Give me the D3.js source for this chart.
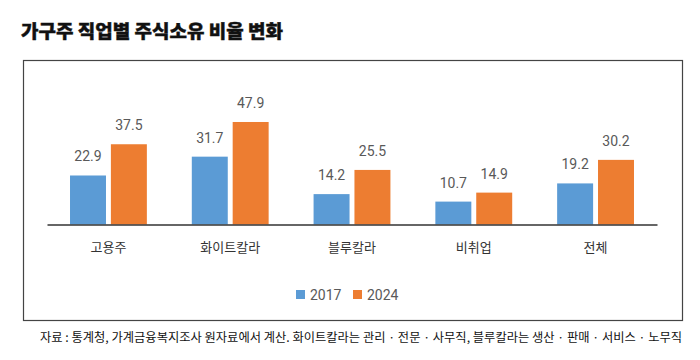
<!DOCTYPE html>
<html><head><meta charset="utf-8">
<script src="https://cdn.jsdelivr.net/npm/d3@7"></script>
<style>body{margin:0;background:#fff}svg{display:block}</style>
</head><body>
<svg id="c" width="700" height="360"></svg>
<script>
const categories = ["고용주","화이트칼라","블루칼라","비취업","전체"];
const seriesNames = ["2017","2024"];
const values2017 = [22.9,31.7,14.2,10.7,19.2];
const values2024 = [37.5,47.9,25.5,14.9,30.2];
const colors = ["#5B9BD5","#ED7D31"];
const title = "가구주 직업별 주식소유 비율 변화";
const source = "자료 : 통계청, 가계금융복지조사 원자료에서 계산. 화이트칼라는 관리 · 전문 · 사무직, 블루칼라는 생산 · 판매 · 서비스 · 노무직";

const svg = d3.select("#c");
const kr = "'Noto Sans CJK KR','Noto Sans',sans-serif";
const num = "Roboto,'Liberation Sans',sans-serif";

svg.append("text").attr("x",21).attr("y",38).text(title)
  .attr("font-family",kr).attr("font-weight",900).attr("font-size",18)
  .attr("fill","#111").attr("stroke","#111").attr("stroke-width",0.4)
  .attr("textLength",262).attr("lengthAdjust","spacingAndGlyphs");

svg.append("rect").attr("x",23.5).attr("y",60.5).attr("width",659).attr("height",260)
  .attr("fill","none").attr("stroke","#444").attr("stroke-width",1.2);

const x0 = d3.scaleBand().domain(categories).range([47,657]).paddingInner(0.369).paddingOuter(0.189);
const x1 = d3.scaleBand().domain(seriesNames).range([0,x0.bandwidth()]).paddingInner(0.12);
const y = d3.scaleLinear().domain([0,50]).range([224.5,117.5]);

const data = categories.map((c,i)=>({c, vals:[values2017[i],values2024[i]]}));
const g = svg.append("g");
const grp = g.selectAll("g.grp").data(data).join("g").attr("transform",d=>`translate(${x0(d.c)},0)`);
grp.selectAll("rect").data(d=>d.vals.map((v,j)=>({v,s:seriesNames[j],j}))).join("rect")
  .attr("x",d=>x1(d.s)).attr("width",x1.bandwidth())
  .attr("y",d=>y(d.v)).attr("height",d=>y(0)-y(d.v))
  .attr("fill",d=>colors[d.j]);
grp.selectAll("text.lab").data(d=>d.vals.map((v,j)=>({v,s:seriesNames[j],j}))).join("text")
  .attr("class","lab")
  .attr("x",d=>x1(d.s)+x1.bandwidth()/2).attr("y",d=>y(d.v)-14)
  .attr("text-anchor","middle").attr("font-family",num).attr("font-size",14)
  .attr("fill","#595959").text(d=>d.v.toFixed(1));

const ax = svg.append("g").attr("transform",`translate(0,${y(0)})`)
  .call(d3.axisBottom(x0).tickSize(0).tickPadding(18));
ax.select(".domain").attr("stroke","#333").attr("stroke-width",1.5);
ax.selectAll("text").attr("font-family",kr).attr("font-size",13).attr("fill","#333");

const lg = svg.append("g");
const lx = [296,353];
seriesNames.forEach((s,i)=>{
  lg.append("rect").attr("x",lx[i]).attr("y",290).attr("width",9).attr("height",9).attr("fill",colors[i]);
  lg.append("text").attr("x",lx[i]+14).attr("y",299.5).text(s)
    .attr("font-family",num).attr("font-size",14).attr("fill","#595959");
});

svg.append("text").attr("x",40).attr("y",341.5).text(source)
  .attr("font-family",kr).attr("font-size",12).attr("fill","#111")
  .attr("textLength",642).attr("lengthAdjust","spacingAndGlyphs");
</script>
</body></html>
